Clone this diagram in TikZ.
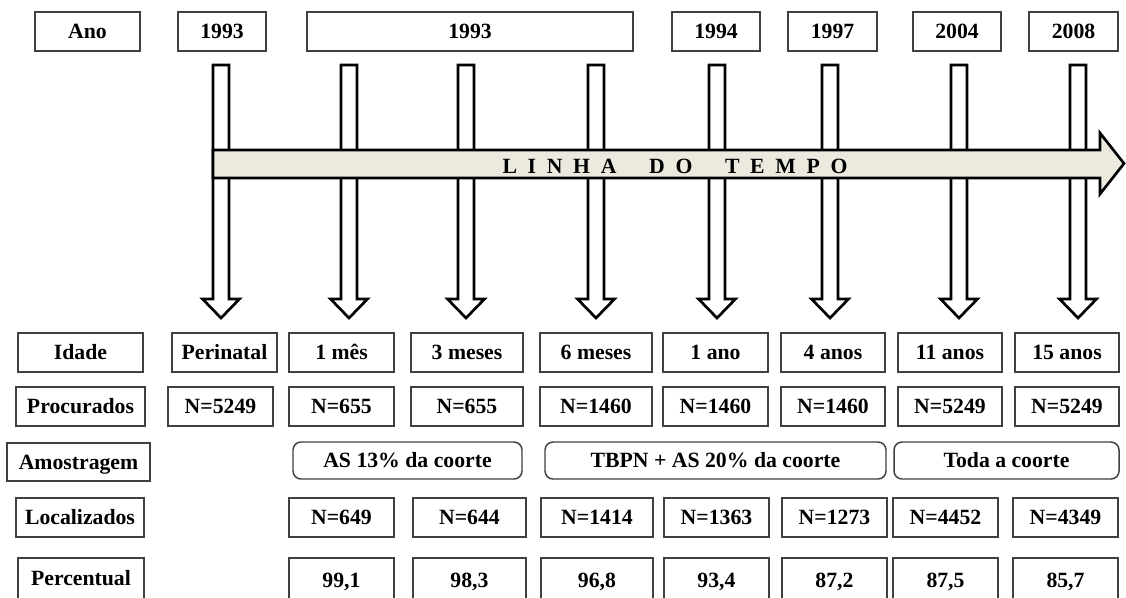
\documentclass[tikz,border=0pt]{standalone}
\usepackage{fontspec}
\setmainfont{Liberation Serif}
\definecolor{boxgray}{HTML}{404040}
\definecolor{arrowfill}{HTML}{ECEADF}
\newcommand\bx[7]{\node[#1, minimum width={(#5-#3)*0.75pt}, minimum height={(#6-#4)*0.75pt}] (#2) at ({(#3+#5)/2},{(#4+#6)/2}) {#7};}
\newcommand\gp{\hspace{8pt}}
\newcommand\wg{\hspace{24.5pt}}
\tikzset{
  box/.style={draw=boxgray, line width=1.1pt, fill=white, inner sep=0pt, outer sep=0pt,
    font=\fontsize{16.3}{19}\selectfont\bfseries, text=black, text height=10.8pt, text depth=0pt},
  rbox/.style={box, rounded corners=6pt},
  varr/.style={draw=black, line width=2pt, fill=white, line join=miter},
  harr/.style={draw=black, line width=2pt, fill=arrowfill, line join=miter},
  lbl/.style={font=\fontsize{16.3}{19}\selectfont\bfseries, text=black, inner sep=0pt, text height=10.8pt, text depth=0pt}
}
\begin{document}
\begin{tikzpicture}[x=0.75pt,y=-0.75pt]
\useasboundingbox (0,0) rectangle (1126,597);
% top row
\bx{box}{ano}{35}{12}{140}{51}{Ano}
\bx{box}{y1}{178}{12}{266}{51}{1993}
\bx{box}{y2}{307}{12}{633}{51}{1993}
\bx{box}{y3}{672}{12}{760}{51}{1994}
\bx{box}{y4}{788}{12}{877}{51}{1997}
\bx{box}{y5}{913}{12}{1001}{51}{2004}
\bx{box}{y6}{1029}{12}{1118}{51}{2008}
% vertical arrows
\foreach \c in {221,349,466,596,717,830,959,1078} {
  \draw[varr] (\c-8,65) -- (\c+8,65) -- (\c+8,299) -- (\c+18.5,299) -- (\c,318) -- (\c-18.5,299) -- (\c-8,299) -- cycle;
}
% horizontal arrow
\draw[harr] (213,150) -- (1100,150) -- (1100,133) -- (1124,163.5) -- (1100,194) -- (1100,178) -- (213,178) -- cycle;
\node[lbl] (lt) at (675,166.5) {L\gp I\gp N\gp H\gp A\wg D\gp O\wg T\gp E\gp M\gp P\gp O};
% Idade row
\bx{box}{idade}{18}{333}{143}{372}{Idade}
\bx{box}{i1}{172}{333}{277}{372}{Perinatal}
\bx{box}{i2}{289}{333}{394}{372}{1 mês}
\bx{box}{i3}{411}{333}{523}{372}{3 meses}
\bx{box}{i4}{540}{333}{652}{372}{6 meses}
\bx{box}{i5}{663}{333}{768}{372}{1 ano}
\bx{box}{i6}{781}{333}{885}{372}{4 anos}
\bx{box}{i7}{898}{333}{1002}{372}{11 anos}
\bx{box}{i8}{1015}{333}{1119}{372}{15 anos}
% Procurados row
\bx{box}{proc}{16}{387}{145}{426}{Procurados}
\bx{box}{p1}{168}{387}{273}{426}{N=5249}
\bx{box}{p2}{289}{387}{394}{426}{N=655}
\bx{box}{p3}{411}{387}{523}{426}{N=655}
\bx{box}{p4}{540}{387}{652}{426}{N=1460}
\bx{box}{p5}{663}{387}{768}{426}{N=1460}
\bx{box}{p6}{781}{387}{885}{426}{N=1460}
\bx{box}{p7}{898}{387}{1002}{426}{N=5249}
\bx{box}{p8}{1015}{387}{1119}{426}{N=5249}
% Amostragem row
\bx{box}{amos}{7}{443}{150}{481}{Amostragem}
\bx{rbox}{a1}{293}{442}{522}{479}{AS 13\% da coorte}
\bx{rbox}{a2}{545}{442}{886}{479}{TBPN + AS 20\% da coorte}
\bx{rbox}{a3}{894}{442}{1119}{479}{Toda a coorte}
% Localizados row
\bx{box}{loc}{16}{498}{144}{537}{Localizados}
\bx{box}{l1}{289}{498}{394}{537}{N=649}
\bx{box}{l2}{413}{498}{526}{537}{N=644}
\bx{box}{l3}{541}{498}{653}{537}{N=1414}
\bx{box}{l4}{664}{498}{769}{537}{N=1363}
\bx{box}{l5}{782}{498}{887}{537}{N=1273}
\bx{box}{l6}{893}{498}{998}{537}{N=4452}
\bx{box}{l7}{1013}{498}{1118}{537}{N=4349}
% Percentual row
\bx{box}{perc}{18}{558}{144}{599}{Percentual}
\bx{box}{c1}{289}{558}{394}{602}{99,1}
\bx{box}{c2}{413}{558}{526}{602}{98,3}
\bx{box}{c3}{541}{558}{653}{602}{96,8}
\bx{box}{c4}{664}{558}{769}{602}{93,4}
\bx{box}{c5}{782}{558}{887}{602}{87,2}
\bx{box}{c6}{893}{558}{998}{602}{87,5}
\bx{box}{c7}{1013}{558}{1118}{602}{85,7}
\end{tikzpicture}
\end{document}
